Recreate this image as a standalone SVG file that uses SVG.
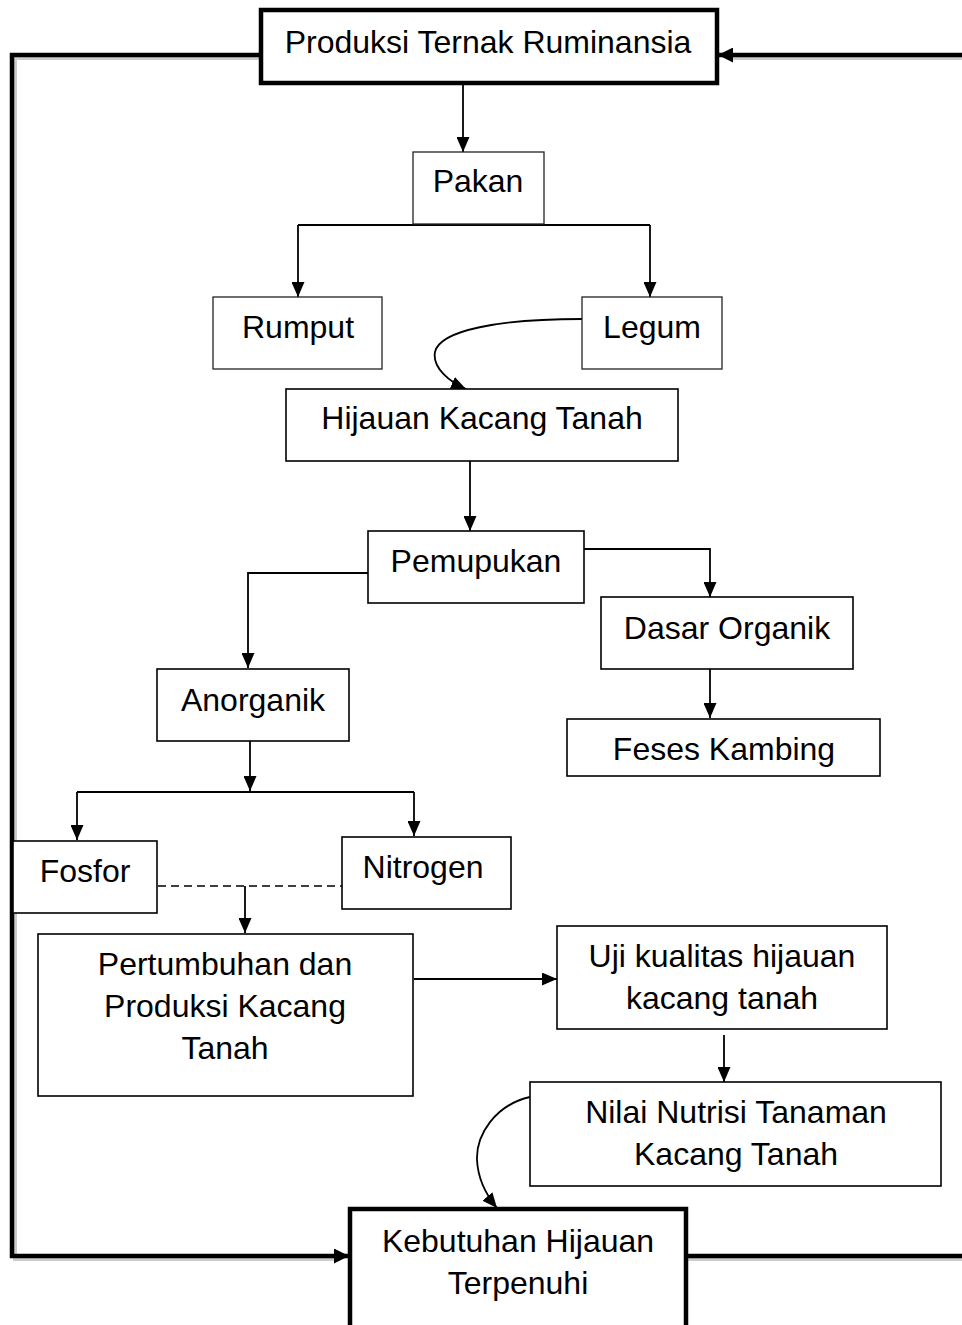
<svg xmlns="http://www.w3.org/2000/svg" width="962" height="1325" viewBox="0 0 962 1325">
<style>
  .box { fill: #fff; stroke: #000; stroke-width: 1.6; }
  .lite { fill: #fff; stroke: #222; stroke-width: 1.3; }
  .bold { fill: #fff; stroke: #000; stroke-width: 4.5; }
  .t { font-family: "Liberation Sans", Arial, sans-serif; font-size: 32px; fill: #000; text-anchor: middle; }
  .c { fill: none; stroke: #000; stroke-width: 1.8; }
  .ck { fill: none; stroke: #000; stroke-width: 4.5; }
  .sh { fill: none; stroke: #ccc; stroke-width: 4; }
  .d { fill: none; stroke: #000; stroke-width: 1.6; stroke-dasharray: 8 5; }
</style>
<defs>
  <marker id="a" markerUnits="userSpaceOnUse" markerWidth="15" markerHeight="13" refX="15" refY="6.5" orient="auto">
    <path d="M0,0 L15,6.5 L0,13 z" fill="#000"/>
  </marker>
  <marker id="ak" markerUnits="userSpaceOnUse" markerWidth="15" markerHeight="15" refX="15" refY="7.5" orient="auto">
    <path d="M0,0 L15,7.5 L0,15 z" fill="#000"/>
  </marker>
</defs>
<rect width="962" height="1325" fill="#fff"/>

<g id="connectors">
  <!-- feedback loops (thick) -->
  <path class="sh" d="M263,58 H15 V1259 H340"/>
  <path class="ck" d="M261,55 H12 V1256 H349" marker-end="url(#ak)"/>
  <path class="sh" d="M688,1259 H962"/>
  <path class="ck" d="M686,1256 H962"/>
  <path class="sh" d="M962,58 H730"/>
  <path class="ck" d="M962,55 H718" marker-end="url(#ak)"/>
  <!-- top to Pakan -->
  <path class="c" d="M463,83 V152" marker-end="url(#a)"/>
  <!-- Pakan branches -->
  <path class="c" d="M298,225 H650"/>
  <path class="c" d="M298,225 V297" marker-end="url(#a)"/>
  <path class="c" d="M650,225 V297" marker-end="url(#a)"/>
  <!-- Legum curve to Hijauan -->
  <path class="c" d="M582,319 C500,319 440,330 435,352 C432,368 450,382 466,389" marker-end="url(#a)"/>
  <!-- Hijauan to Pemupukan -->
  <path class="c" d="M470,461 V531" marker-end="url(#a)"/>
  <!-- Pemupukan branches -->
  <path class="c" d="M368,573 H248 V668" marker-end="url(#a)"/>
  <path class="c" d="M584,549 H710 V597" marker-end="url(#a)"/>
  <path class="c" d="M710,669 V718" marker-end="url(#a)"/>
  <!-- Anorganik -->
  <path class="c" d="M250,741 V791" marker-end="url(#a)"/>
  <path class="c" d="M77,792 H414"/>
  <path class="c" d="M77,792 V840" marker-end="url(#a)"/>
  <path class="c" d="M414,792 V836" marker-end="url(#a)"/>
  <!-- dashed Fosfor - Nitrogen -->
  <path class="d" d="M158,886 H342"/>
  <path class="c" d="M245,886 V933" marker-end="url(#a)"/>
  <!-- Pertumbuhan to Uji -->
  <path class="c" d="M414,979 H557" marker-end="url(#a)"/>
  <!-- Uji to Nilai -->
  <path class="c" d="M724,1035 V1082" marker-end="url(#a)"/>
  <!-- Nilai curve to Kebutuhan -->
  <path class="c" d="M530,1097 C495,1105 476,1135 477,1160 C478,1180 487,1196 497,1208" marker-end="url(#a)"/>
</g>

<g id="n-produksi">
  <rect class="bold" x="261" y="10" width="456" height="73"/>
  <text class="t" x="488" y="53">Produksi Ternak Ruminansia</text>
</g>
<g id="n-pakan">
  <rect class="lite" x="413" y="152" width="131" height="72"/>
  <text class="t" x="478" y="192">Pakan</text>
</g>
<g id="n-rumput">
  <rect class="lite" x="213" y="297" width="169" height="72"/>
  <text class="t" x="298" y="338">Rumput</text>
</g>
<g id="n-legum">
  <rect class="lite" x="582" y="297" width="140" height="72"/>
  <text class="t" x="652" y="338">Legum</text>
</g>
<g id="n-hijauan">
  <rect class="box" x="286" y="389" width="392" height="72"/>
  <text class="t" x="482" y="429">Hijauan Kacang Tanah</text>
</g>
<g id="n-pemupukan">
  <rect class="box" x="368" y="531" width="216" height="72"/>
  <text class="t" x="476" y="572">Pemupukan</text>
</g>
<g id="n-dasar">
  <rect class="box" x="601" y="597" width="252" height="72"/>
  <text class="t" x="727" y="639">Dasar Organik</text>
</g>
<g id="n-feses">
  <rect class="box" x="567" y="719" width="313" height="57"/>
  <text class="t" x="724" y="760">Feses Kambing</text>
</g>
<g id="n-anorganik">
  <rect class="box" x="157" y="669" width="192" height="72"/>
  <text class="t" x="253" y="711">Anorganik</text>
</g>
<g id="n-fosfor">
  <rect class="box" x="13" y="841" width="144" height="72"/>
  <text class="t" x="85" y="882">Fosfor</text>
</g>
<g id="n-nitrogen">
  <rect class="box" x="342" y="837" width="169" height="72"/>
  <text class="t" x="423" y="878">Nitrogen</text>
</g>
<g id="n-pertumbuhan">
  <rect class="box" x="38" y="934" width="375" height="162"/>
  <text class="t" x="225" y="975">Pertumbuhan dan</text>
  <text class="t" x="225" y="1017">Produksi Kacang</text>
  <text class="t" x="225" y="1059">Tanah</text>
</g>
<g id="n-uji">
  <rect class="box" x="557" y="926" width="330" height="103"/>
  <text class="t" x="722" y="967">Uji kualitas hijauan</text>
  <text class="t" x="722" y="1009">kacang tanah</text>
</g>
<g id="n-nilai">
  <rect class="box" x="530" y="1082" width="411" height="104"/>
  <text class="t" x="736" y="1123">Nilai Nutrisi Tanaman</text>
  <text class="t" x="736" y="1165">Kacang Tanah</text>
</g>
<g id="n-kebutuhan">
  <rect class="bold" x="350" y="1209" width="336" height="140"/>
  <text class="t" x="518" y="1252">Kebutuhan Hijauan</text>
  <text class="t" x="518" y="1294">Terpenuhi</text>
</g>
</svg>
